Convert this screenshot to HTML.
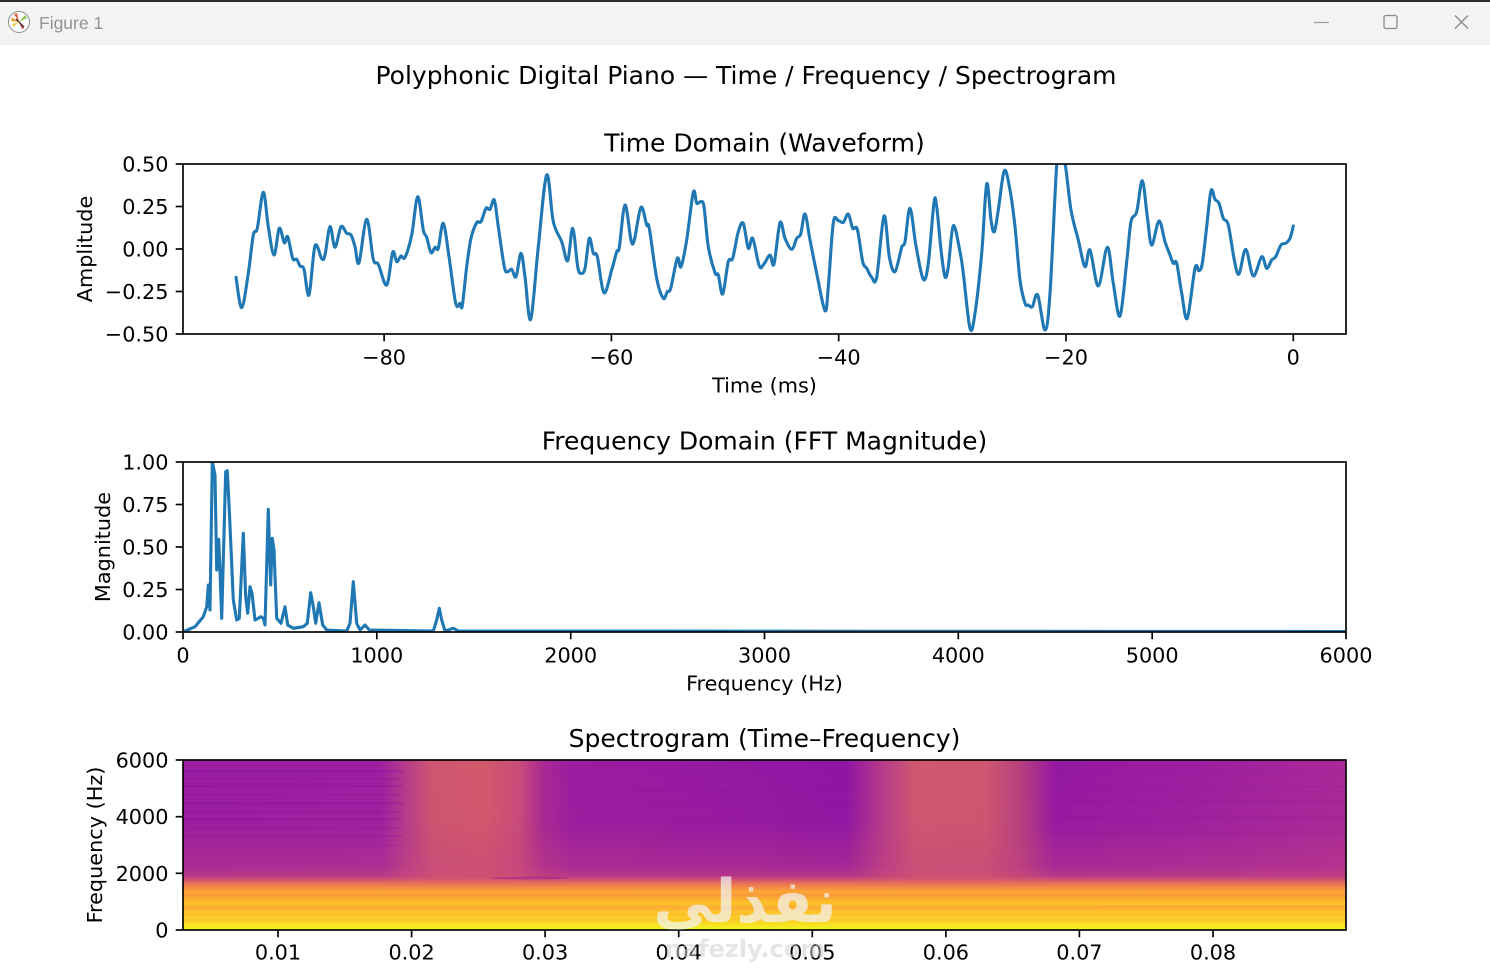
<!DOCTYPE html>
<html>
<head>
<meta charset="utf-8">
<style>
html,body{margin:0;padding:0;background:#fff;}
svg{display:block;}
.t{font-family:"DejaVu Sans","Liberation Sans",sans-serif;fill:#000;}
</style>
</head>
<body>
<svg width="1490" height="968" viewBox="0 0 1490 968" xmlns="http://www.w3.org/2000/svg">
<defs>
  <clipPath id="c1"><rect x="183" y="164" width="1163" height="170"/></clipPath>
  <clipPath id="c2"><rect x="183" y="462" width="1163" height="170"/></clipPath>
  <clipPath id="c3"><rect x="183" y="760" width="1163" height="170"/></clipPath>
  <linearGradient id="gx" x1="183" y1="0" x2="1346" y2="0" gradientUnits="userSpaceOnUse">
    <stop offset="0" stop-color="#9a1ca1"/>
    <stop offset="0.17" stop-color="#9d1fa0"/>
    <stop offset="0.19" stop-color="#b43a8c"/>
    <stop offset="0.215" stop-color="#cf5570"/>
    <stop offset="0.26" stop-color="#d3586c"/>
    <stop offset="0.29" stop-color="#c84a7a"/>
    <stop offset="0.31" stop-color="#a82893"/>
    <stop offset="0.335" stop-color="#9a1ca0"/>
    <stop offset="0.5" stop-color="#9418a3"/>
    <stop offset="0.57" stop-color="#8e15a4"/>
    <stop offset="0.6" stop-color="#b5398b"/>
    <stop offset="0.63" stop-color="#cf5870"/>
    <stop offset="0.69" stop-color="#ce566f"/>
    <stop offset="0.72" stop-color="#b8407f"/>
    <stop offset="0.75" stop-color="#9518a2"/>
    <stop offset="0.87" stop-color="#9d1fa0"/>
    <stop offset="1" stop-color="#aa2898"/>
  </linearGradient>
  <linearGradient id="gv" x1="0" y1="760" x2="0" y2="886" gradientUnits="userSpaceOnUse">
    <stop offset="0" stop-color="#c0407f" stop-opacity="0"/>
    <stop offset="0.5" stop-color="#c0407f" stop-opacity="0.05"/>
    <stop offset="0.85" stop-color="#c44380" stop-opacity="0.42"/>
    <stop offset="1" stop-color="#d8586a" stop-opacity="0.8"/>
  </linearGradient>
  <linearGradient id="gb" x1="0" y1="875" x2="0" y2="930" gradientUnits="userSpaceOnUse">
    <stop offset="0" stop-color="#cc4778" stop-opacity="0"/>
    <stop offset="0.14" stop-color="#e66c5c"/>
    <stop offset="0.23" stop-color="#f58b47"/>
    <stop offset="0.3" stop-color="#fca835"/>
    <stop offset="0.37" stop-color="#f99a3e"/>
    <stop offset="0.44" stop-color="#fdb42f"/>
    <stop offset="0.52" stop-color="#fdc328"/>
    <stop offset="0.59" stop-color="#fbab38"/>
    <stop offset="0.66" stop-color="#fdbf2a"/>
    <stop offset="0.745" stop-color="#fcce25"/>
    <stop offset="0.81" stop-color="#fbc52a"/>
    <stop offset="0.88" stop-color="#f8df23"/>
    <stop offset="0.95" stop-color="#f5ec22"/>
    <stop offset="1" stop-color="#f0f921"/>
  </linearGradient>
</defs>

<!-- Title bar -->
<rect x="0" y="0" width="1490" height="45" fill="#f3f3f3"/>
<rect x="0" y="0" width="1490" height="2" fill="#2d2d2d"/>
<circle cx="19" cy="22" r="10.5" fill="#fff" stroke="#8a8a8a" stroke-width="1"/>
<path d="M19 22 L12 17 L11 21 Z" fill="#e8a33a"/>
<path d="M19 22 L14 14 L17 13 Z" fill="#e05a3c"/>
<path d="M19 22 L25 15 L27 18 Z" fill="#8bc34a"/>
<path d="M19 22 L12 24 L13 27 Z" fill="#f2c94c"/>
<path d="M19 22 L24 28 L22 29 Z" fill="#d04030"/>
<line x1="16" y1="19" x2="24" y2="27" stroke="#222" stroke-width="1.2"/>
<text x="39" y="29" font-family="Liberation Sans, sans-serif" font-size="17.5" fill="#929292">Figure 1</text>
<line x1="1314" y1="22.5" x2="1329" y2="22.5" stroke="#9a9a9a" stroke-width="1.2"/>
<rect x="1384" y="15.5" width="13" height="13" rx="2" fill="none" stroke="#8a8a8a" stroke-width="1.3"/>
<line x1="1455" y1="15.5" x2="1468" y2="28.5" stroke="#8a8a8a" stroke-width="1.3"/>
<line x1="1468" y1="15.5" x2="1455" y2="28.5" stroke="#8a8a8a" stroke-width="1.3"/>

<!-- Suptitle -->
<text class="t" x="746" y="84" font-size="25" text-anchor="middle">Polyphonic Digital Piano — Time / Frequency / Spectrogram</text>

<!-- ================= Axes 1 ================= -->
<text class="t" x="764.5" y="151.5" font-size="25" text-anchor="middle">Time Domain (Waveform)</text>
<g clip-path="url(#c1)">
<polyline id="wave" fill="none" stroke="#1f77b4" stroke-width="3.1" stroke-linejoin="round" stroke-linecap="round" points="236,277.3 241.7,307.7 248.3,273.3 253.3,235 257.3,228.3 263.3,192.3 268.3,226.7 274,255 279.3,228.3 284.3,242.7 287.7,236.7 292.7,258.3 296.7,259.3 300,266 304,269.3 309,295 315,246 321.7,258.7 325,255 330,226.7 335,247.3 341,226.7 346.7,233.3 351,235 355,246.7 359,262.7 366.7,219.3 373.3,259.3 378.3,264.3 386.7,285 392.7,252.3 396.7,261.7 401,256 405,257.3 411.7,235 417.7,196.7 423.3,230 426.7,237.3 431,252.7 435,247.3 438.3,248.3 443.3,223.3 449,256.7 455.7,303.3 460,303.3 462.3,305.7 466.7,266.7 471,238.3 476.7,222.7 481,221.7 486,208.3 490,209.3 494.3,200 498.3,226.7 504.3,266.7 507.7,271.7 511.7,269.3 516,276.7 521,253.3 525,276.7 530.7,319.3 538.3,246.7 546.7,175 553.3,221.7 561.7,241.7 567.7,260.7 572.7,228.3 577.7,266.7 581,273.3 585,268.3 589.3,238.3 593.3,253.3 597.3,256.7 604,292.7 611.7,270 616.7,251.7 619.3,247.3 625,205 631,240 634.3,240 641,207.3 646.7,225 649.3,228.3 656.7,278.3 663.3,298.3 667.3,291.7 670.7,288.3 677.3,258.3 681,266.7 686.7,240 693.3,192.3 696.7,203.3 700.7,201.7 704,206.7 708.3,246.7 715,272.7 718.3,275 722.7,294 728.3,261.7 732.7,258.3 738.3,231.7 743.3,223.3 748.3,248.3 752.7,238.3 759.3,266 764,264 770,255 774,264 780,222.7 785,238.3 791.7,249.3 796.7,238.3 800.7,234 805,214 810,240 816.7,273.3 825,310.7 828.3,286.7 833.3,222.7 838.3,220.7 843.3,222.3 848.3,214 852.7,228.3 857.3,229.3 862.7,261.7 866.7,268.3 871.7,277.3 876.7,277.3 884,216 889.3,256.7 895,271.7 901.7,247.3 905,241.7 910,208.3 916,246 923.3,279.3 928.3,263.3 934,202.7 936.7,206.7 941,250 945,276.7 948.3,266.7 953.3,225.7 960,251.7 963.3,273.3 970,328.3 975,313.3 981.7,253.3 986.7,184 991,220 994.3,231.7 998.3,210 1004.3,170.7 1010,190 1015,226.7 1020,280 1025,303.3 1028.3,305 1032.3,306.7 1037.7,295 1045,330 1050,293.3 1056.7,165 1060,156.7 1065,163.3 1071,210 1078.3,240 1085,266.7 1090,250 1098.3,286 1107.3,247.3 1113.3,283.3 1120,316 1126.7,261.7 1131,221.7 1136.7,211.7 1142.3,180.7 1147.3,216.7 1151.7,245 1159,221 1165,241.7 1170,255 1173.3,263.3 1176.7,263.3 1181.7,293.3 1187.3,318.3 1195,268.3 1199,270.7 1202.3,263.3 1206.7,226.7 1211,190.7 1215,199.3 1219,203.3 1223.3,218.3 1228.3,225 1234.3,260 1239,274 1245.7,249.3 1253.3,276 1261.7,256.7 1266.7,268.3 1271.7,260 1275.7,256.7 1281,245 1285.7,243.3 1290,238.3 1293.3,226"/>
<path id="waves" fill="none" stroke="#1f77b4" stroke-width="3.1" stroke-linejoin="round" stroke-linecap="round" d=""/>
</g>
<rect x="183" y="164" width="1163" height="170" fill="none" stroke="#000" stroke-width="1.67"/>
<g stroke="#000" stroke-width="1.67">
  <line x1="175.7" y1="164" x2="183" y2="164"/>
  <line x1="175.7" y1="206.5" x2="183" y2="206.5"/>
  <line x1="175.7" y1="249" x2="183" y2="249"/>
  <line x1="175.7" y1="291.5" x2="183" y2="291.5"/>
  <line x1="175.7" y1="334" x2="183" y2="334"/>
  <line x1="384.1" y1="334" x2="384.1" y2="341.3"/>
  <line x1="611.4" y1="334" x2="611.4" y2="341.3"/>
  <line x1="838.7" y1="334" x2="838.7" y2="341.3"/>
  <line x1="1066" y1="334" x2="1066" y2="341.3"/>
  <line x1="1293.3" y1="334" x2="1293.3" y2="341.3"/>
</g>
<g class="t" font-size="20.8" text-anchor="end">
  <text x="168.5" y="171.5">0.50</text>
  <text x="168.5" y="214">0.25</text>
  <text x="168.5" y="256.5">0.00</text>
  <text x="168.5" y="299">−0.25</text>
  <text x="168.5" y="341.5">−0.50</text>
</g>
<g class="t" font-size="20.8" text-anchor="middle">
  <text x="384.1" y="364.5">−80</text>
  <text x="611.4" y="364.5">−60</text>
  <text x="838.7" y="364.5">−40</text>
  <text x="1066" y="364.5">−20</text>
  <text x="1293.3" y="364.5">0</text>
  <text x="764.5" y="392.5">Time (ms)</text>
</g>
<text class="t" font-size="20.8" text-anchor="middle" transform="translate(92,249) rotate(-90)">Amplitude</text>

<!-- ================= Axes 2 ================= -->
<text class="t" x="764.5" y="449.5" font-size="25" text-anchor="middle">Frequency Domain (FFT Magnitude)</text>
<g clip-path="url(#c2)">
<polyline fill="none" stroke="#1f77b4" stroke-width="3.1" stroke-linejoin="round" stroke-linecap="round" points="183,632 195,626.7 203.3,616.7 206.7,606.7 208.3,585 210,610 212.3,461.7 215,475 216.7,570 218.7,539.3 220,571.7 221.7,618.3 225.7,471.7 227.3,470.7 229.3,510 233.3,600 236.7,620 239.3,618.3 243.3,533.3 245.7,596.7 247.7,613.3 250,586.7 252,593.3 255,620 258.3,618.3 260.7,616.7 263.3,618.3 265,625 268.3,509.3 270.7,585 272.3,538.3 274,550 276.7,618.3 281,623.3 285,606.7 287.7,625 293.3,628.3 303.3,626.7 307.3,623.3 310.7,592.7 313.3,606.7 315.7,623.3 319,602.7 322.7,625 326.7,630 346.7,631 350,623.3 353.3,581.7 356.7,623.3 360,630 365,625 369.3,630 433.3,631 436.7,620 439.3,608.3 441.7,620 445,631 453.3,628.3 458.3,631 1346,631.5"/>
</g>
<rect x="183" y="462" width="1163" height="170" fill="none" stroke="#000" stroke-width="1.67"/>
<g stroke="#000" stroke-width="1.67">
  <line x1="175.7" y1="462" x2="183" y2="462"/>
  <line x1="175.7" y1="504.5" x2="183" y2="504.5"/>
  <line x1="175.7" y1="547" x2="183" y2="547"/>
  <line x1="175.7" y1="589.5" x2="183" y2="589.5"/>
  <line x1="175.7" y1="632" x2="183" y2="632"/>
  <line x1="183" y1="632" x2="183" y2="639.3"/>
  <line x1="376.8" y1="632" x2="376.8" y2="639.3"/>
  <line x1="570.7" y1="632" x2="570.7" y2="639.3"/>
  <line x1="764.5" y1="632" x2="764.5" y2="639.3"/>
  <line x1="958.3" y1="632" x2="958.3" y2="639.3"/>
  <line x1="1152.2" y1="632" x2="1152.2" y2="639.3"/>
  <line x1="1346" y1="632" x2="1346" y2="639.3"/>
</g>
<g class="t" font-size="20.8" text-anchor="end">
  <text x="168.5" y="469.5">1.00</text>
  <text x="168.5" y="512">0.75</text>
  <text x="168.5" y="554.5">0.50</text>
  <text x="168.5" y="597">0.25</text>
  <text x="168.5" y="639.5">0.00</text>
</g>
<g class="t" font-size="20.8" text-anchor="middle">
  <text x="183" y="662.5">0</text>
  <text x="376.8" y="662.5">1000</text>
  <text x="570.7" y="662.5">2000</text>
  <text x="764.5" y="662.5">3000</text>
  <text x="958.3" y="662.5">4000</text>
  <text x="1152.2" y="662.5">5000</text>
  <text x="1346" y="662.5">6000</text>
  <text x="764.5" y="690.5">Frequency (Hz)</text>
</g>
<text class="t" font-size="20.8" text-anchor="middle" transform="translate(110,547) rotate(-90)">Magnitude</text>

<!-- ================= Axes 3 (Spectrogram) ================= -->
<text class="t" x="764.5" y="747" font-size="25" text-anchor="middle">Spectrogram (Time–Frequency)</text>
<g clip-path="url(#c3)">
  <rect x="183" y="760" width="1163" height="170" fill="url(#gx)"/>
  <g fill="#6a0aa8" fill-opacity="0.2">
    <rect x="183" y="770" width="220" height="2.5"/>
    <rect x="183" y="778" width="220" height="1.5"/>
    <rect x="183" y="785" width="220" height="2"/>
    <rect x="183" y="794" width="220" height="1.5"/>
    <rect x="183" y="802" width="220" height="2.5"/>
    <rect x="183" y="811" width="220" height="1.5"/>
    <rect x="183" y="818" width="220" height="2"/>
    <rect x="183" y="827" width="220" height="1.5"/>
    <rect x="183" y="835" width="220" height="2"/>
    <rect x="183" y="845" width="220" height="1.5"/>
    <rect x="570" y="775" width="300" height="1.5" fill-opacity="0.12"/>
    <rect x="570" y="790" width="300" height="1.5" fill-opacity="0.12"/>
    <rect x="570" y="806" width="300" height="1.5" fill-opacity="0.12"/>
    <rect x="570" y="822" width="300" height="1.5" fill-opacity="0.12"/>
    <rect x="1050" y="772" width="296" height="1.5" fill-opacity="0.12"/>
    <rect x="1050" y="786" width="296" height="1.5" fill-opacity="0.12"/>
    <rect x="1050" y="800" width="296" height="1.5" fill-opacity="0.12"/>
    <rect x="1050" y="816" width="296" height="1.5" fill-opacity="0.12"/>
    <rect x="1050" y="832" width="296" height="1.5" fill-opacity="0.12"/>
  </g>
  <rect x="183" y="760" width="1163" height="126" fill="url(#gv)"/>
  <rect x="183" y="875" width="1163" height="55" fill="url(#gb)"/>
  <g fill="#f0803a" fill-opacity="0.2">
    <rect x="183" y="898" width="1163" height="1.5"/>
    <rect x="183" y="914" width="1163" height="1.5"/>
    <rect x="1100" y="905" width="246" height="2"/>
  </g>
  <ellipse cx="530" cy="878" rx="40" ry="1.4" fill="#8a10a0" fill-opacity="0.4"/>
</g>
<rect x="183" y="760" width="1163" height="170" fill="none" stroke="#000" stroke-width="1.67"/>
<g stroke="#000" stroke-width="1.67">
  <line x1="175.7" y1="760" x2="183" y2="760"/>
  <line x1="175.7" y1="816.7" x2="183" y2="816.7"/>
  <line x1="175.7" y1="873.3" x2="183" y2="873.3"/>
  <line x1="175.7" y1="930" x2="183" y2="930"/>
  <line x1="278" y1="930" x2="278" y2="937.3"/>
  <line x1="411.6" y1="930" x2="411.6" y2="937.3"/>
  <line x1="545.1" y1="930" x2="545.1" y2="937.3"/>
  <line x1="678.7" y1="930" x2="678.7" y2="937.3"/>
  <line x1="812.3" y1="930" x2="812.3" y2="937.3"/>
  <line x1="945.9" y1="930" x2="945.9" y2="937.3"/>
  <line x1="1079.4" y1="930" x2="1079.4" y2="937.3"/>
  <line x1="1213" y1="930" x2="1213" y2="937.3"/>
</g>
<g class="t" font-size="20.8" text-anchor="end">
  <text x="168.5" y="767.5">6000</text>
  <text x="168.5" y="824.2">4000</text>
  <text x="168.5" y="880.8">2000</text>
  <text x="168.5" y="937.5">0</text>
</g>
<g class="t" font-size="20.8" text-anchor="middle">
  <text x="278" y="959.5">0.01</text>
  <text x="411.6" y="959.5">0.02</text>
  <text x="545.1" y="959.5">0.03</text>
  <text x="678.7" y="959.5">0.04</text>
  <text x="812.3" y="959.5">0.05</text>
  <text x="945.9" y="959.5">0.06</text>
  <text x="1079.4" y="959.5">0.07</text>
  <text x="1213" y="959.5">0.08</text>
</g>
<text class="t" font-size="20.8" text-anchor="middle" transform="translate(102,845) rotate(-90)">Frequency (Hz)</text>

<!-- watermark -->
<text x="745" y="922" font-family="DejaVu Sans, sans-serif" font-size="60" font-weight="bold" fill="#f2f2f2" fill-opacity="0.72" text-anchor="middle">نفذلي</text>
<text x="745" y="957" font-family="DejaVu Sans, sans-serif" font-size="24" font-weight="bold" fill="#d0d0d0" fill-opacity="0.55" text-anchor="middle">nafezly.com</text>
</svg>
<script>
(function(){
  var pl=document.getElementById('wave'), p=document.getElementById('waves');
  if(!pl||!p) return;
  var raw=pl.getAttribute('points').trim().split(/\s+/).map(function(s){var a=s.split(',');return [parseFloat(a[0]),parseFloat(a[1])];});
  var n=raw.length, d='M'+raw[0][0]+','+raw[0][1];
  for(var i=0;i<n-1;i++){
    var p0=raw[i-1]||raw[i], p1=raw[i], p2=raw[i+1], p3=raw[i+2]||raw[i+1];
    var c1x=p1[0]+(p2[0]-p0[0])/6, c1y=p1[1]+(p2[1]-p0[1])/6;
    var c2x=p2[0]-(p3[0]-p1[0])/6, c2y=p2[1]-(p3[1]-p1[1])/6;
    d+=' C'+c1x.toFixed(2)+','+c1y.toFixed(2)+' '+c2x.toFixed(2)+','+c2y.toFixed(2)+' '+p2[0]+','+p2[1];
  }
  p.setAttribute('d',d);
  pl.style.display='none';
})();
</script>
</body>
</html>
